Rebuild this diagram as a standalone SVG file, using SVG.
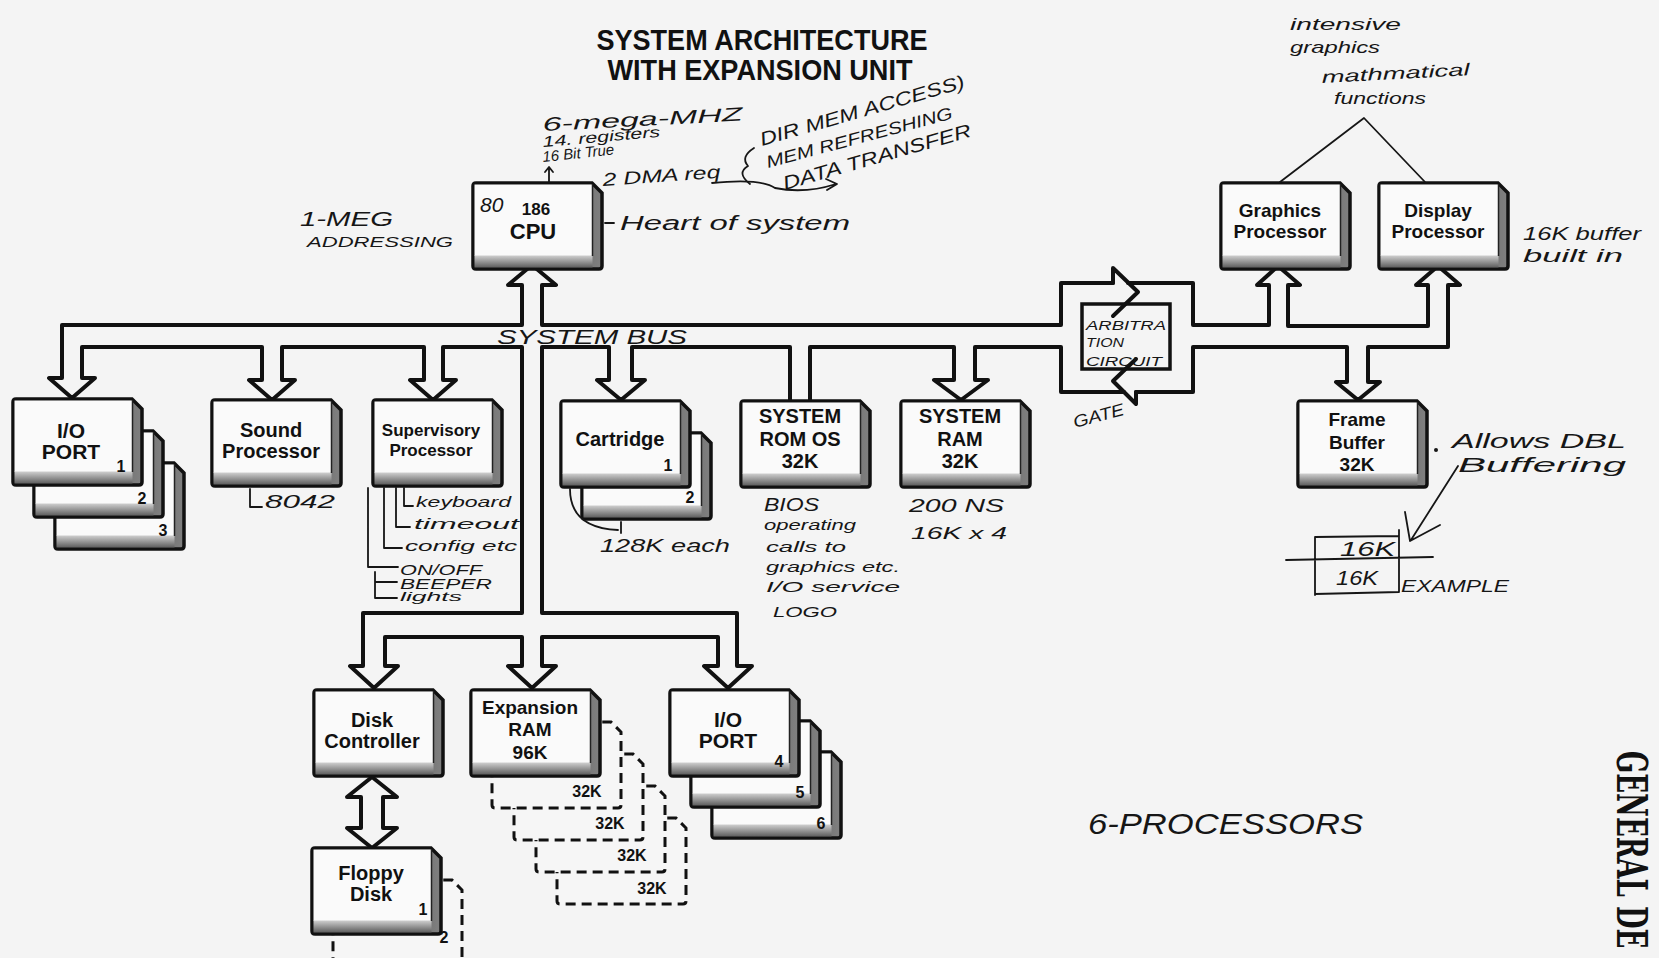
<svg xmlns="http://www.w3.org/2000/svg" xmlns:xlink="http://www.w3.org/1999/xlink" width="1659" height="958" viewBox="0 0 1659 958">
<style>
.bx{font-family:"Liberation Sans",Arial,sans-serif;font-weight:bold;fill:#111;text-anchor:middle}
.num{font-family:"Liberation Sans",Arial,sans-serif;font-weight:bold;font-size:16px;fill:#111;text-anchor:middle}
.hw{font-family:"Liberation Sans",Arial,sans-serif;font-style:italic;fill:#161616}
.bus{fill:none;stroke:#111;stroke-width:4;stroke-linejoin:round;stroke-linecap:round}
.ann{fill:none;stroke:#161616;stroke-width:1.8;stroke-linecap:round;stroke-linejoin:round}
.ttl{font-family:"Liberation Sans",Arial,sans-serif;font-weight:bold;font-size:30px;fill:#111;text-anchor:middle}
</style>
<defs>
<linearGradient id="side" x1="0" y1="0" x2="1" y2="0"><stop offset="0" stop-color="#2a2a2a"/><stop offset="1" stop-color="#808080"/></linearGradient>
<linearGradient id="bot" x1="0" y1="0" x2="0" y2="1"><stop offset="0" stop-color="#d4d4d4"/><stop offset="1" stop-color="#5e5e5e"/></linearGradient>
<g id="blk">
<path d="M0,3 Q0,0 3,0 L119,0 L129,10 L129,83 Q129,86 126,86 L3,86 Q0,86 0,83 Z" fill="url(#side)" stroke="#111" stroke-width="3.5"/>
<rect x="1.5" y="72" width="118" height="12.5" fill="url(#bot)"/>
<rect x="1.5" y="1.5" width="117.5" height="71" fill="#fafafa"/>
<line x1="119.5" y1="1" x2="119.5" y2="73" stroke="#222" stroke-width="1.5"/>
</g>
<path id="dblk" d="M0,3 Q0,0 3,0 L119,0 L129,10 L129,83 Q129,86 126,86 L3,86 Q0,86 0,83 Z" fill="#f6f6f6" stroke="#111" stroke-width="3" stroke-dasharray="10 6"/>
</defs>
<rect width="1659" height="958" fill="#f4f4f4"/>

<g id="title">
<text class="ttl" x="762" y="50" textLength="331" lengthAdjust="spacingAndGlyphs">SYSTEM ARCHITECTURE</text>
<text class="ttl" x="760" y="80" textLength="305" lengthAdjust="spacingAndGlyphs">WITH EXPANSION UNIT</text>
</g>

<g id="connectors">
<path class="bus" d="M62,378 L62,325 L522,325 L522,285 L508,285 L532,265 L556,285 L542,285 L542,325 L1061,325 L1061,283 L1113,283 M1128,283 L1193,283 L1193,325 L1269,325 L1269,285 L1257,285 L1278,266 L1300,285 L1288,285 L1288,326 L1428,326 L1428,285 L1416,285 L1438,266 L1460,285 L1448,285 L1448,347 L1368,347 L1368,382 L1380,382 L1358,400 L1336,382 L1347,382 L1347,347 L1193,347 L1193,392 L1136,392 M1124,392 L1061,392 L1061,347 L975,347 L975,380 L988,380 L961,400 L934,380 L954,380 L954,347 L810,347 L810,400 M790,400 L790,347 L632,347 L632,380 L645,380 L621,400 L597,380 L609,380 L609,347 L542,347 L542,613 L737,613 L737,666 L752,666 L728,688 L704,666 L718,666 L718,637 L542,637 L542,666 L556,666 L532,688 L508,666 L522,666 L522,637 L385,637 L385,666 L398,666 L374,688 L350,666 L363,666 L363,613 L522,613 L522,347 L443,347 L443,380 L456,380 L433,400 L410,380 L424,380 L424,347 L282,347 L282,380 L295,380 L272,400 L249,380 L262,380 L262,347 L82,347 L82,378 L95,378 L72,398 L49,378 L62,378"/>
<path class="bus" d="M1113,283 L1113,268 L1138,292 L1113,316"/>
<path class="bus" d="M1136,359 L1113,381 L1136,404 L1136,392"/>
<path class="bus" d="M361,797 L347,797 L372,777 L397,797 L383,797 L383,828 L397,828 L372,848 L347,828 L361,828 Z"/>
</g>

<g id="cpu">
<use xlink:href="#blk" href="#blk" x="473" y="183"/>
<text class="hw" x="480" y="212" font-size="21">80</text>
<text class="bx" x="536" y="215" font-size="17">186</text>
<text class="bx" x="533" y="239" font-size="22">CPU</text>
</g>

<g id="io-port-1">
<use href="#blk" x="55" y="463"/>
<use href="#blk" x="34" y="431"/>
<use href="#blk" x="13" y="399"/>
<text class="bx" x="71" y="438" font-size="21">I/O</text>
<text class="bx" x="71" y="459" font-size="21">PORT</text>
<text class="num" x="121" y="472">1</text>
<text class="num" x="142" y="504">2</text>
<text class="num" x="163" y="536">3</text>
</g>

<g id="sound">
<use href="#blk" x="212" y="400"/>
<text class="bx" x="271" y="437" font-size="20">Sound</text>
<text class="bx" x="271" y="458" font-size="20">Processor</text>
</g>

<g id="supervisory">
<use href="#blk" x="373" y="400"/>
<text class="bx" x="431" y="436" font-size="17">Supervisory</text>
<text class="bx" x="431" y="456" font-size="17">Processor</text>
</g>

<g id="cartridge">
<use href="#blk" x="582" y="433"/>
<use href="#blk" x="561" y="401"/>
<text class="bx" x="620" y="446" font-size="20">Cartridge</text>
<text class="num" x="668" y="471">1</text>
<text class="num" x="690" y="503">2</text>
</g>

<g id="system-rom">
<use href="#blk" x="741" y="401"/>
<text class="bx" x="800" y="423" font-size="20">SYSTEM</text>
<text class="bx" x="800" y="446" font-size="20">ROM OS</text>
<text class="bx" x="800" y="468" font-size="20">32K</text>
</g>

<g id="system-ram">
<use href="#blk" x="901" y="401"/>
<text class="bx" x="960" y="423" font-size="20">SYSTEM</text>
<text class="bx" x="960" y="446" font-size="20">RAM</text>
<text class="bx" x="960" y="468" font-size="20">32K</text>
</g>

<g id="arbitration">
<rect x="1082" y="304" width="88" height="65" fill="none" stroke="#111" stroke-width="3.5"/>
<text class="hw" x="1086" y="330" font-size="13" textLength="80" lengthAdjust="spacingAndGlyphs">ARBITRA</text>
<text class="hw" x="1086" y="347" font-size="12" textLength="38" lengthAdjust="spacingAndGlyphs">TION</text>
<text class="hw" x="1086" y="366" font-size="13" textLength="76" lengthAdjust="spacingAndGlyphs">CIRCUIT</text>
</g>

<g id="graphics">
<use href="#blk" x="1221" y="183"/>
<text class="bx" x="1280" y="217" font-size="19">Graphics</text>
<text class="bx" x="1280" y="238" font-size="19">Processor</text>
</g>

<g id="display">
<use href="#blk" x="1379" y="183"/>
<text class="bx" x="1438" y="217" font-size="19">Display</text>
<text class="bx" x="1438" y="238" font-size="19">Processor</text>
</g>

<g id="frame-buffer">
<use href="#blk" x="1298" y="401"/>
<text class="bx" x="1357" y="426" font-size="19">Frame</text>
<text class="bx" x="1357" y="449" font-size="19">Buffer</text>
<text class="bx" x="1357" y="471" font-size="19">32K</text>
</g>

<g id="disk-controller">
<use href="#blk" x="314" y="690"/>
<text class="bx" x="372" y="727" font-size="20">Disk</text>
<text class="bx" x="372" y="748" font-size="20">Controller</text>
</g>

<g id="expansion-ram">
<use href="#dblk" x="557" y="818"/>
<use href="#dblk" x="536" y="786"/>
<use href="#dblk" x="514" y="754"/>
<use href="#dblk" x="492" y="722"/>
<use href="#blk" x="471" y="690"/>
<text class="bx" x="530" y="714" font-size="19">Expansion</text>
<text class="bx" x="530" y="736" font-size="19">RAM</text>
<text class="bx" x="530" y="759" font-size="19">96K</text>
<text class="num" x="587" y="797">32K</text>
<text class="num" x="610" y="829">32K</text>
<text class="num" x="632" y="861">32K</text>
<text class="num" x="652" y="894">32K</text>
</g>

<g id="io-port-4">
<use href="#blk" x="712" y="752"/>
<use href="#blk" x="691" y="721"/>
<use href="#blk" x="670" y="690"/>
<text class="bx" x="728" y="727" font-size="21">I/O</text>
<text class="bx" x="728" y="748" font-size="21">PORT</text>
<text class="num" x="779" y="767">4</text>
<text class="num" x="800" y="798">5</text>
<text class="num" x="821" y="829">6</text>
</g>

<g id="floppy">
<use href="#dblk" x="333" y="880"/>
<use href="#blk" x="312" y="848"/>
<text class="bx" x="371" y="880" font-size="20">Floppy</text>
<text class="bx" x="371" y="901" font-size="20">Disk</text>
<text class="num" x="423" y="915">1</text>
<text class="num" x="444" y="943">2</text>
</g>

<g id="annotations">
<text class="hw" x="300" y="226" font-size="20" textLength="93" lengthAdjust="spacingAndGlyphs">1-MEG</text>
<text class="hw" x="307" y="247" font-size="15" textLength="146" lengthAdjust="spacingAndGlyphs">ADDRESSING</text>
<text class="hw" x="543" y="131" font-size="19" textLength="200" lengthAdjust="spacingAndGlyphs" transform="rotate(-3 543 131)">6-mega-MHZ</text>
<text class="hw" x="543" y="147" font-size="15" textLength="118" lengthAdjust="spacingAndGlyphs" transform="rotate(-5 543 147)">14. registers</text>
<text class="hw" x="543" y="162" font-size="15" textLength="72" lengthAdjust="spacingAndGlyphs" transform="rotate(-6 543 162)">16 Bit True</text>
<path class="ann" d="M549,182 L549,168 M545,172 L549,167 L553,172"/>
<text class="hw" x="603" y="186" font-size="18" textLength="118" lengthAdjust="spacingAndGlyphs" transform="rotate(-4 603 186)">2 DMA req</text>
<path class="ann" d="M754,148 Q740,157 748,166 Q736,173 750,184"/>
<path class="ann" d="M712,183 Q760,178 775,188 Q805,194 836,184 M826,179 L837,184 L827,190"/>
<text class="hw" x="762" y="146" font-size="19" textLength="212" lengthAdjust="spacingAndGlyphs" transform="rotate(-16 762 146)">DIR MEM ACCESS)</text>
<text class="hw" x="768" y="168" font-size="17" textLength="192" lengthAdjust="spacingAndGlyphs" transform="rotate(-15 768 168)">MEM REFRESHING</text>
<text class="hw" x="785" y="190" font-size="19" textLength="195" lengthAdjust="spacingAndGlyphs" transform="rotate(-16 785 190)">DATA TRANSFER</text>
<path class="ann" d="M605,223 L614,223"/>
<text class="hw" x="620" y="230" font-size="20" textLength="230" lengthAdjust="spacingAndGlyphs">Heart of system</text>
<text class="hw" x="1290" y="30" font-size="17" textLength="111" lengthAdjust="spacingAndGlyphs">intensive</text>
<text class="hw" x="1290" y="53" font-size="17" textLength="90" lengthAdjust="spacingAndGlyphs">graphics</text>
<text class="hw" x="1322" y="83" font-size="17" textLength="148" lengthAdjust="spacingAndGlyphs" transform="rotate(-3 1322 83)">mathmatical</text>
<text class="hw" x="1334" y="104" font-size="16" textLength="92" lengthAdjust="spacingAndGlyphs">functions</text>
<path class="ann" d="M1280,182 L1364,118 L1425,182"/>
<text class="hw" x="1523" y="240" font-size="18" textLength="118" lengthAdjust="spacingAndGlyphs">16K buffer</text>
<text class="hw" x="1523" y="262" font-size="18" textLength="100" lengthAdjust="spacingAndGlyphs">built in</text>
<text class="hw" x="497" y="344" font-size="20" textLength="190" lengthAdjust="spacingAndGlyphs">SYSTEM BUS</text>
<text class="hw" x="1075" y="428" font-size="17" textLength="52" lengthAdjust="spacingAndGlyphs" transform="rotate(-15 1075 428)">GATE</text>
<path class="ann" d="M250,489 L250,507 L262,507"/>
<text class="hw" x="265" y="508" font-size="19" textLength="70" lengthAdjust="spacingAndGlyphs">8042</text>
<path class="ann" d="M404,488 L404,506 L413,506 M396,488 L396,527 L410,527 M384,488 L384,548 L402,548 M368,488 L368,567 L398,567 M375,572 L375,598 L397,598 M375,582 L397,582"/>
<text class="hw" x="416" y="507" font-size="15" textLength="95" lengthAdjust="spacingAndGlyphs">keyboard</text>
<text class="hw" x="414" y="529" font-size="15" textLength="105" lengthAdjust="spacingAndGlyphs">timeout</text>
<text class="hw" x="405" y="551" font-size="15" textLength="112" lengthAdjust="spacingAndGlyphs">config etc</text>
<text class="hw" x="400" y="575" font-size="15" textLength="82" lengthAdjust="spacingAndGlyphs">ON/OFF</text>
<text class="hw" x="400" y="589" font-size="14" textLength="92" lengthAdjust="spacingAndGlyphs">BEEPER</text>
<text class="hw" x="400" y="601" font-size="12" textLength="62" lengthAdjust="spacingAndGlyphs">lights</text>
<path class="ann" d="M570,489 Q570,528 618,530 M621,522 L621,533"/>
<text class="hw" x="600" y="552" font-size="18" textLength="130" lengthAdjust="spacingAndGlyphs">128K each</text>
<text class="hw" x="764" y="511" font-size="18" textLength="55" lengthAdjust="spacingAndGlyphs">BIOS</text>
<text class="hw" x="764" y="530" font-size="14" textLength="92" lengthAdjust="spacingAndGlyphs">operating</text>
<text class="hw" x="766" y="552" font-size="15" textLength="80" lengthAdjust="spacingAndGlyphs">calls to</text>
<text class="hw" x="766" y="572" font-size="15" textLength="134" lengthAdjust="spacingAndGlyphs">graphics etc.</text>
<text class="hw" x="766" y="592" font-size="15" textLength="134" lengthAdjust="spacingAndGlyphs">I/O service</text>
<text class="hw" x="773" y="617" font-size="15" textLength="64" lengthAdjust="spacingAndGlyphs">LOGO</text>
<text class="hw" x="909" y="512" font-size="18" textLength="95" lengthAdjust="spacingAndGlyphs">200 NS</text>
<text class="hw" x="911" y="539" font-size="17" textLength="96" lengthAdjust="spacingAndGlyphs">16K x 4</text>
<circle cx="1436" cy="450" r="2" fill="#161616"/>
<text class="hw" x="1452" y="448" font-size="20" textLength="174" lengthAdjust="spacingAndGlyphs">Allows DBL</text>
<text class="hw" x="1458" y="472" font-size="20" textLength="168" lengthAdjust="spacingAndGlyphs">Buffering</text>
<path class="ann" d="M1458,466 L1411,540 M1405,512 L1410,541 L1440,525" stroke-width="4"/>
<path class="ann" d="M1315,537 L1315,595 M1399,530 L1399,592 M1315,537 L1399,536 M1286,560 L1433,557 M1315,594 L1399,592"/>
<text class="hw" x="1340" y="556" font-size="20" textLength="55" lengthAdjust="spacingAndGlyphs">16K</text>
<text class="hw" x="1336" y="585" font-size="20" textLength="42" lengthAdjust="spacingAndGlyphs">16K</text>
<text class="hw" x="1401" y="592" font-size="17" textLength="108" lengthAdjust="spacingAndGlyphs">EXAMPLE</text>
<text class="hw" x="1088" y="834" font-size="29" textLength="275" lengthAdjust="spacingAndGlyphs">6-PROCESSORS</text>
</g>

<g id="page-heading">
<text transform="translate(1617,751) rotate(90) scale(0.62,1)" font-family="DejaVu Serif,serif" font-weight="bold" font-size="42" fill="#111">GENERAL DE</text>
</g>
</svg>
